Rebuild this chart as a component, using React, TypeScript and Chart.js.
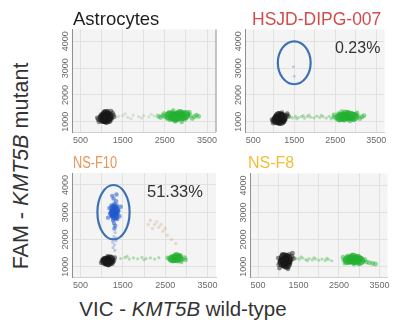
import React, { useEffect, useRef } from "react";
import { Chart, registerables } from "chart.js";

Chart.register(...registerables);

type Pt = [number, number];

// ---- axis definitions ----
const xMin = 300;
const xMax = 3700;
const yMin = 620;
const yMax = 4440;
const xGridValues = [500, 1000, 1500, 2000, 2500, 3000, 3500];
const xTickLabels = [500, 1500, 2500, 3500];
const yGridValues = [1000, 2000, 3000, 4000];
const yTickLabels = [1000, 2000, 3000, 4000];

// ---- panel titles / texts ----
const panelTitles = ["Astrocytes", "HSJD-DIPG-007", "NS-F10", "NS-F8"];
const mutantPercents = ["", "0.23%", "51.33%", ""];

// ---- Astrocytes ----
const astroNegCore: Pt[] = [[1090, 1160], [1150, 1200], [1050, 1120], [1120, 1100], [1100, 1260]];
const astroNeg: Pt[] = [
  [1100, 1150], [1020, 1120], [1180, 1180], [1060, 1240], [1140, 1060], [960, 1180],
  [1240, 1140], [1090, 1330], [1110, 970], [1000, 1280], [1200, 1010], [920, 1080],
  [1280, 1260], [1040, 1010], [1160, 1300], [980, 1230], [1230, 1090], [1130, 1200],
  [1060, 1110], [1190, 1260], [1000, 1050], [1260, 1330], [940, 1000], [1140, 1400],
  [1220, 1400], [1070, 1380], [1300, 1180], [900, 1150], [1050, 1180], [1150, 1130],
];
const astroTrail: Pt[] = [
  [1400, 1200], [1500, 1230], [1620, 1170], [1750, 1250], [1880, 1190], [2000, 1230],
  [2120, 1180], [2250, 1210], [2330, 1260], [1560, 1300], [1950, 1140], [2180, 1280], [1700, 1120],
];
const astroWtCore: Pt[] = [
  [2700, 1200], [2800, 1220], [2900, 1200], [2750, 1150], [2850, 1280], [2620, 1230], [2980, 1250],
];
const astroWt: Pt[] = [
  [2800, 1200], [2700, 1160], [2900, 1240], [2600, 1210], [3000, 1170], [2750, 1300],
  [2850, 1100], [2500, 1190], [3100, 1230], [2650, 1280], [2950, 1320], [2550, 1120],
  [3200, 1190], [2450, 1230], [2780, 1060], [2880, 1380], [3050, 1290], [2720, 1240],
  [2620, 1070], [2980, 1090], [3250, 1250], [2400, 1160], [2680, 1350], [2830, 1170],
  [3150, 1120], [2570, 1290], [2920, 1200], [2760, 1120], [2700, 1420], [2820, 1330],
  [3080, 1360], [2480, 1300], [2900, 1000], [2660, 1140], [3020, 1240], [2740, 1020],
  [2860, 1270], [2600, 1350], [3300, 1200], [2350, 1200], [2950, 1130], [2780, 1230],
];

// ---- HSJD-DIPG-007 ----
const dipgNegCore: Pt[] = [[1140, 1100], [1200, 1160], [1080, 1080], [1170, 1050], [1130, 1200]];
const dipgNeg: Pt[] = [
  [1150, 1100], [1070, 1060], [1230, 1140], [1110, 1200], [1190, 1010], [1010, 1110],
  [1290, 1120], [1160, 1280], [1130, 930], [1050, 1220], [1250, 1000], [980, 1020],
  [1320, 1240], [1090, 970], [1210, 1260], [1030, 1160], [1270, 1060], [1180, 1160],
  [1110, 1060], [1240, 1210], [1040, 990], [1330, 1300], [990, 950], [1200, 1340],
  [1120, 1300], [1360, 1200], [960, 1080], [1090, 1130],
];
const dipgTrail: Pt[] = [
  [1400, 1180], [1460, 1150], [1530, 1200], [1600, 1160], [1680, 1190], [1750, 1140],
  [1820, 1200], [1900, 1170], [1980, 1150], [2050, 1210], [2120, 1160], [2200, 1190],
  [2280, 1140], [2350, 1200], [2430, 1170], [1560, 1110], [1860, 1250], [2160, 1240],
  [1720, 1230], [2400, 1110],
];
const dipgWtCore: Pt[] = [
  [2700, 1180], [2800, 1200], [2880, 1220], [2620, 1170], [2760, 1260], [2950, 1180],
];
const dipgWt: Pt[] = [
  [2750, 1180], [2650, 1140], [2850, 1220], [2560, 1200], [2950, 1160], [2700, 1280],
  [2800, 1090], [2480, 1170], [3050, 1210], [2620, 1260], [2900, 1300], [2530, 1110],
  [3150, 1180], [2720, 1050], [2830, 1350], [3000, 1270], [2680, 1220], [2590, 1060],
  [2930, 1080], [3200, 1230], [2780, 1150], [3100, 1120], [2580, 1300], [2880, 1190],
  [2710, 1120], [2660, 1380], [2790, 1300], [3030, 1330], [2470, 1260], [2860, 1030],
  [2980, 1200], [2620, 1170],
];
const dipgMut: Pt[] = [[1480, 3050], [1500, 2700]];

// ---- NS-F10 ----
const f10NegCore: Pt[] = [[1140, 1220], [1200, 1260], [1090, 1200], [1160, 1160]];
const f10Neg: Pt[] = [
  [1150, 1220], [1070, 1180], [1230, 1260], [1110, 1320], [1190, 1130], [1010, 1230],
  [1290, 1220], [1140, 1380], [1160, 1060], [1050, 1300], [1250, 1110], [990, 1140],
  [1310, 1330], [1090, 1090], [1210, 1340], [1040, 1260], [1270, 1170], [1180, 1280],
  [1120, 1200], [1230, 1190],
];
const f10MutCore: Pt[] = [[1300, 3000], [1290, 3150], [1310, 2850], [1270, 2950], [1330, 3080]];
const f10Mut: Pt[] = [
  [1300, 3000], [1250, 2900], [1350, 3100], [1280, 3200], [1330, 2800], [1220, 3050],
  [1380, 2950], [1300, 3300], [1270, 2700], [1360, 3250], [1240, 2850], [1320, 3150],
  [1200, 2950], [1400, 3050], [1290, 2600], [1340, 3400], [1260, 3100], [1310, 2900],
  [1230, 3250], [1370, 2750], [1280, 3500], [1320, 2500], [1180, 3150], [1420, 2850],
  [1300, 2400], [1250, 3600], [1350, 3650], [1150, 2800], [1450, 3200], [1330, 3000],
  [1270, 3000], [1300, 2800], [1300, 3150],
];
const f10MutTrail: Pt[] = [
  [1320, 2250], [1290, 2100], [1340, 1950], [1300, 1800], [1270, 1700], [1350, 2050],
  [1310, 1600], [1260, 1900],
];
const f10Dbl: Pt[] = [
  [2150, 2700], [2250, 2550], [2350, 2450], [2450, 2300], [2200, 2400], [2550, 2150],
  [2300, 2650], [2650, 2000], [2100, 2550], [2400, 2550], [2750, 1850], [2500, 2400],
];
const f10Trail: Pt[] = [
  [1450, 1300], [1550, 1330], [1650, 1280], [1750, 1320], [1850, 1290], [1950, 1340],
  [2050, 1300], [2150, 1320], [2250, 1280], [2350, 1330], [1600, 1380], [2000, 1250],
];
const f10WtCore: Pt[] = [[2740, 1300], [2820, 1310], [2680, 1290], [2780, 1360]];
const f10Wt: Pt[] = [
  [2750, 1300], [2670, 1260], [2830, 1340], [2600, 1290], [2900, 1270], [2720, 1390],
  [2790, 1200], [2560, 1320], [2960, 1330], [2650, 1360], [2860, 1410], [2700, 1210],
  [2980, 1250], [2620, 1230], [2810, 1290], [2740, 1440], [2880, 1180],
];

// ---- NS-F8 ----
const f8NegCore: Pt[] = [[1170, 1200], [1220, 1280], [1120, 1160], [1200, 1100], [1150, 1330]];
const f8Neg: Pt[] = [
  [1180, 1200], [1100, 1150], [1260, 1250], [1140, 1320], [1220, 1080], [1040, 1200],
  [1320, 1260], [1170, 1420], [1200, 980], [1080, 1300], [1280, 1120], [1010, 1080],
  [1340, 1380], [1120, 1020], [1240, 1380], [1060, 1250], [1300, 1180], [1210, 1310],
  [1150, 1100], [1270, 1450], [1030, 950], [1350, 1500], [1100, 1450], [1240, 920],
  [1190, 1270], [1000, 1320], [1380, 1300], [1130, 1230],
];
const f8Trail: Pt[] = [
  [1450, 1300], [1520, 1280], [1600, 1320], [1680, 1260], [1760, 1300], [1840, 1250],
  [1920, 1290], [2000, 1240], [2080, 1280], [2160, 1230], [2240, 1270], [2320, 1220],
  [1560, 1360], [1880, 1330], [2200, 1310], [1720, 1220],
];
const f8WtCore: Pt[] = [
  [2800, 1260], [2880, 1240], [2960, 1280], [2720, 1250], [2850, 1330], [3020, 1220],
];
const f8Wt: Pt[] = [
  [2850, 1250], [2760, 1210], [2940, 1290], [2680, 1280], [3020, 1230], [2800, 1350],
  [2900, 1150], [2620, 1250], [3100, 1200], [2730, 1330], [2980, 1360], [2700, 1160],
  [3180, 1170], [2870, 1100], [2830, 1420], [3060, 1300], [2780, 1260], [2650, 1130],
  [2950, 1190], [3250, 1150], [3330, 1120], [2720, 1400], [2900, 1320], [2600, 1350],
  [3140, 1260], [2820, 1180], [2990, 1100], [3400, 1100],
];

// ---- gates (data coordinates) ----
const dipgGate = { x: 1500, y: 3200, rx: 400, ry: 800 };
const f10Gate = { x: 1280, y: 3000, rx: 380, ry: 1000 };

// ---- styles ----
const C_NEG = "rgba(25,25,25,0.5)";
const C_NEG_CORE = "rgba(15,15,15,0.75)";
const C_WT = "rgba(35,180,50,0.5)";
const C_WT_CORE = "rgba(30,170,45,0.7)";
const C_TRAIL = "rgba(80,180,80,0.4)";
const C_TRAIL_FAINT = "rgba(150,190,150,0.35)";
const C_MUT = "rgba(35,90,205,0.55)";
const C_MUT_CORE = "rgba(30,85,200,0.7)";
const C_MUT_TRAIL = "rgba(110,110,200,0.35)";
const C_DBL = "rgba(205,160,120,0.3)";

type Series = { data: Pt[]; color: string; r: number };
type Box = { x: number; y: number; w: number; h: number; pt: number; pr: number };

const decoPlugin = {
  id: "deco",
  beforeDraw(chart: any) {
    const { ctx, chartArea } = chart;
    ctx.save();
    ctx.fillStyle = "#f3f4f3";
    ctx.fillRect(chartArea.left, chartArea.top, chartArea.right - chartArea.left, chartArea.bottom - chartArea.top);
    ctx.restore();
  },
  afterDraw(chart: any, _args: any, opts: any) {
    const { ctx, chartArea, scales } = chart;
    ctx.save();
    if (opts.rightBorder) {
      ctx.strokeStyle = "#8a8a8a";
      ctx.lineWidth = 1;
      ctx.beginPath();
      ctx.moveTo(chartArea.right + 0.5, chartArea.top);
      ctx.lineTo(chartArea.right + 0.5, chartArea.bottom);
      ctx.stroke();
    }
    if (opts.gate) {
      const g = opts.gate;
      const px = scales.x.getPixelForValue(g.x);
      const py = scales.y.getPixelForValue(g.y);
      const prx = Math.abs(scales.x.getPixelForValue(g.x + g.rx) - px);
      const pry = Math.abs(scales.y.getPixelForValue(g.y + g.ry) - py);
      ctx.strokeStyle = "#3d70b4";
      ctx.lineWidth = 2.2;
      ctx.beginPath();
      ctx.ellipse(px, py, prx, pry, 0, 0, Math.PI * 2);
      ctx.stroke();
    }
    ctx.restore();
  },
};

function Panel(props: { box: Box; series: Series[]; gate?: any; rightBorder?: boolean }) {
  const ref = useRef<HTMLCanvasElement>(null);
  const { box, series, gate, rightBorder } = props;
  useEffect(() => {
    const chart = new Chart(ref.current as HTMLCanvasElement, {
      type: "scatter",
      data: {
        datasets: series.map((s) => ({
          data: s.data.map(([x, y]) => ({ x, y })),
          backgroundColor: s.color,
          borderWidth: 0,
          pointRadius: s.r,
          pointHoverRadius: s.r,
        })),
      },
      options: {
        responsive: false,
        animation: false,
        events: [],
        layout: { padding: { left: 0, right: box.pr, top: box.pt, bottom: 0 } },
        plugins: {
          legend: { display: false },
          tooltip: { enabled: false },
          deco: { gate, rightBorder },
        } as any,
        scales: {
          x: {
            type: "linear",
            min: xMin,
            max: xMax,
            afterBuildTicks: (s: any) => {
              s.ticks = xGridValues.map((v) => ({ value: v }));
            },
            afterFit: (s: any) => {
              s.height = 16;
            },
            ticks: {
              autoSkip: false,
              maxRotation: 0,
              minRotation: 0,
              padding: 3,
              color: "#6a6a6a",
              font: { size: 9, family: "'Liberation Sans', Arial, sans-serif" },
              callback: (v: any) => (xTickLabels.includes(Number(v)) ? String(v) : ""),
            },
            grid: { color: "#dfe2df", lineWidth: 1, drawTicks: false },
            border: { display: true, color: "#cfd2cf" },
          },
          y: {
            type: "linear",
            min: yMin,
            max: yMax,
            afterBuildTicks: (s: any) => {
              s.ticks = yGridValues.map((v) => ({ value: v }));
            },
            afterFit: (s: any) => {
              s.width = 22;
            },
            ticks: {
              autoSkip: false,
              minRotation: 90,
              maxRotation: 90,
              crossAlign: "center",
              padding: -4,
              color: "#6a6a6a",
              font: { size: 9, family: "'Liberation Sans', Arial, sans-serif" },
              callback: (v: any) => (yTickLabels.includes(Number(v)) ? String(v) : ""),
            },
            grid: { color: "#dfe2df", lineWidth: 1, drawTicks: false },
            border: { display: true, color: "#8f8f8f" },
          },
        },
      } as any,
      plugins: [decoPlugin as any],
    });
    return () => chart.destroy();
  }, []);
  return (
    <canvas
      ref={ref}
      width={box.w}
      height={box.h}
      style={{ position: "absolute", left: box.x, top: box.y, width: box.w, height: box.h }}
    />
  );
}

const font = "'Liberation Sans', Arial, Helvetica, sans-serif";

export default function App() {
  const txt = (s: any): any => ({ position: "absolute", whiteSpace: "nowrap", lineHeight: 1, fontFamily: font, ...s });
  return (
    <div style={{ position: "absolute", left: 0, top: 0, width: 394, height: 323, overflow: "hidden", background: "#fff" }}>
      <Panel
        box={{ x: 50, y: 24, w: 171, h: 124, pt: 4, pr: 4 }}
        rightBorder
        series={[
          { data: astroTrail, color: C_TRAIL_FAINT, r: 1.6 },
          { data: astroWt, color: C_WT, r: 2.4 },
          { data: astroWtCore, color: C_WT_CORE, r: 5 },
          { data: astroNeg, color: C_NEG, r: 2.4 },
          { data: astroNegCore, color: C_NEG_CORE, r: 5.5 },
        ]}
      />
      <Panel
        box={{ x: 223, y: 24, w: 167, h: 124, pt: 4, pr: 4 }}
        gate={dipgGate}
        series={[
          { data: dipgTrail, color: C_TRAIL, r: 1.6 },
          { data: dipgWt, color: C_WT, r: 2.4 },
          { data: dipgWtCore, color: C_WT_CORE, r: 5 },
          { data: dipgNeg, color: C_NEG, r: 2.4 },
          { data: dipgNegCore, color: C_NEG_CORE, r: 5.5 },
          { data: dipgMut, color: "rgba(120,130,190,0.35)", r: 1.5 },
        ]}
      />
      <Panel
        box={{ x: 50, y: 168, w: 171, h: 125, pt: 4, pr: 4 }}
        gate={f10Gate}
        series={[
          { data: f10Dbl, color: C_DBL, r: 1.8 },
          { data: f10Trail, color: C_TRAIL, r: 1.6 },
          { data: f10Wt, color: C_WT, r: 2.4 },
          { data: f10WtCore, color: C_WT_CORE, r: 4.5 },
          { data: f10MutTrail, color: C_MUT_TRAIL, r: 1.6 },
          { data: f10Mut, color: C_MUT, r: 2.2 },
          { data: f10MutCore, color: C_MUT_CORE, r: 4.5 },
          { data: f10Neg, color: C_NEG, r: 2.4 },
          { data: f10NegCore, color: C_NEG_CORE, r: 5 },
        ]}
      />
      <Panel
        box={{ x: 228, y: 168, w: 165, h: 125, pt: 4, pr: 2 }}
        series={[
          { data: f8Trail, color: C_TRAIL, r: 1.6 },
          { data: f8Wt, color: C_WT, r: 2.4 },
          { data: f8WtCore, color: C_WT_CORE, r: 5 },
          { data: f8Neg, color: C_NEG, r: 2.4 },
          { data: f8NegCore, color: C_NEG_CORE, r: 5.5 },
        ]}
      />

      <div style={txt({ left: 73, top: 9.6, fontSize: 18.5, color: "#1e1e1e" })}>{panelTitles[0]}</div>
      <div style={txt({ left: 252, top: 10.5, fontSize: 17.5, color: "#d24c4c" })}>{panelTitles[1]}</div>
      <div style={txt({ left: 73, top: 155, fontSize: 16, color: "#e8955a", transform: "scaleX(0.8)", transformOrigin: "0 0" })}>
        {panelTitles[2]}
      </div>
      <div style={txt({ left: 248, top: 155, fontSize: 16, color: "#f0bf35" })}>{panelTitles[3]}</div>

      <div style={txt({ left: 335, top: 40, fontSize: 16, color: "#333" })}>{mutantPercents[1]}</div>
      <div style={txt({ left: 147, top: 183, fontSize: 16.5, color: "#333" })}>{mutantPercents[2]}</div>

      <div
        style={txt({
          left: 22,
          top: 166,
          fontSize: 21.5,
          color: "#333",
          transform: "translate(-50%, -50%) rotate(-90deg)",
        })}
      >
        FAM - <i>KMT5B</i> mutant
      </div>
      <div style={txt({ left: 183, top: 299, fontSize: 20.5, color: "#333", transform: "translateX(-50%)" })}>
        VIC - <i>KMT5B</i> wild-type
      </div>
    </div>
  );
}
